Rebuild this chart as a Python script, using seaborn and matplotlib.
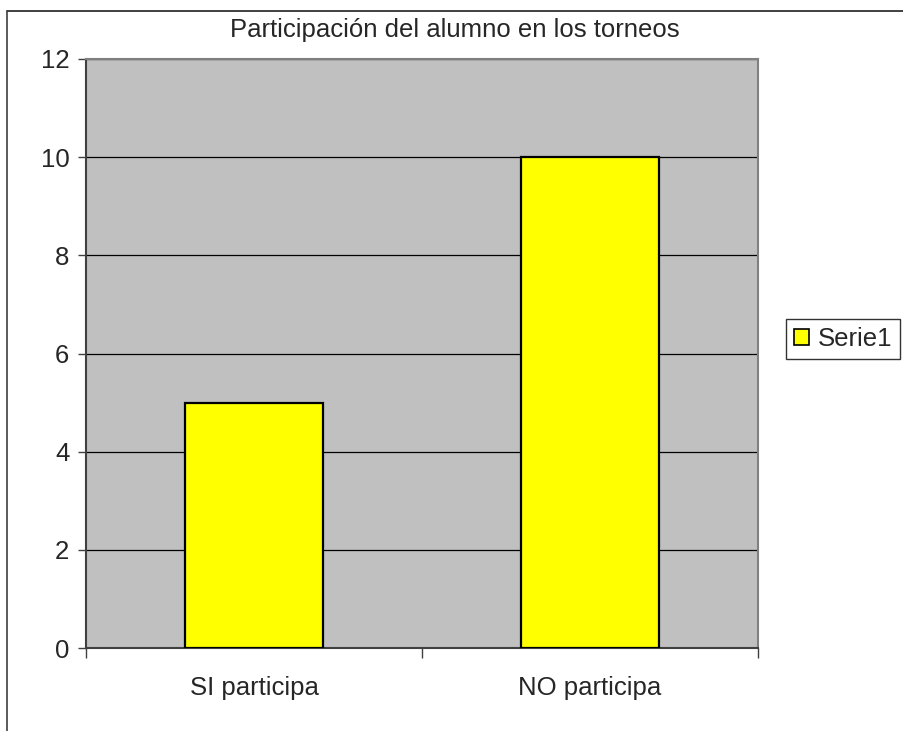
import matplotlib
matplotlib.use("Agg")
import matplotlib.pyplot as plt
import seaborn as sns
import pandas as pd
from matplotlib.patches import Patch
from matplotlib.lines import Line2D

categories = ["SI participa", "NO participa"]
values = [5, 10]
series_name = "Serie1"
title = "Participación del alumno en los torneos"
yticks = [0, 2, 4, 6, 8, 10, 12]

sns.set_theme(style="white")
plt.rcParams["font.family"] = ["Liberation Sans", "DejaVu Sans"]

FS = 18.5

df = pd.DataFrame({"cat": categories, "val": values})

fig = plt.figure(figsize=(9.04, 7.31), dpi=100)
fig.patch.set_facecolor("white")
ax = fig.add_axes([86/904, 1 - 648/731, (758 - 86)/904, (648 - 59)/731])
ax.set_facecolor("#C0C0C0")

sns.barplot(data=df, x="cat", y="val", ax=ax, color="#FFFF00",
            edgecolor="black", linewidth=1.6, width=0.41, saturation=1, zorder=3)

ax.set_xlim(-0.5, 1.5)
ax.set_ylim(0, 12)
ax.set_yticks(yticks)
ax.set_yticklabels([str(t) for t in yticks], fontsize=FS)
ax.yaxis.grid(True, color="black", linewidth=0.9, zorder=1)
ax.set_axisbelow(True)
ax.tick_params(axis="y", left=True, length=6, width=1, color="#404040", pad=6)

# category boundary ticks (major) and labels (minor)
ax.set_xticks([-0.5, 0.5, 1.5])
ax.set_xticklabels(["", "", ""])
ax.set_xticks([0, 1], minor=True)
ax.set_xticklabels(categories, minor=True, fontsize=FS)
ax.tick_params(axis="x", which="major", bottom=True, length=7, width=1, color="#404040")
ax.tick_params(axis="x", which="minor", bottom=False, length=0, pad=20)
ax.set_xlabel("")
ax.set_ylabel("")

for side in ["top", "right"]:
    ax.spines[side].set_color("#808080")
    ax.spines[side].set_linewidth(1.5)
ax.spines["left"].set_color("#404040")
ax.spines["left"].set_linewidth(1.5)
ax.spines["bottom"].set_color("#404040")
ax.spines["bottom"].set_linewidth(1.5)

fig.text(455/904, 1 - 30/731, title, ha="center", va="center", fontsize=FS)

# outer chart border (top and left visible)
fig.add_artist(Line2D([7/904, 1.0], [1 - 11/731, 1 - 11/731], transform=fig.transFigure,
                      color="#202020", linewidth=1.2))
fig.add_artist(Line2D([7/904, 7/904], [0.0, 1 - 11/731], transform=fig.transFigure,
                      color="#404040", linewidth=1.2))

handle = Patch(facecolor="#FFFF00", edgecolor="black", linewidth=1.2, label=series_name)
leg = fig.legend(handles=[handle], loc="center left", bbox_to_anchor=(786/904, 1 - 339/731),
                 frameon=True, fancybox=False, fontsize=FS, handlelength=0.6,
                 handleheight=0.6, handletextpad=0.35, borderpad=0.3, borderaxespad=0)
leg.get_frame().set_edgecolor("black")
leg.get_frame().set_linewidth(1.0)

fig.savefig("out.png", dpi=100)
